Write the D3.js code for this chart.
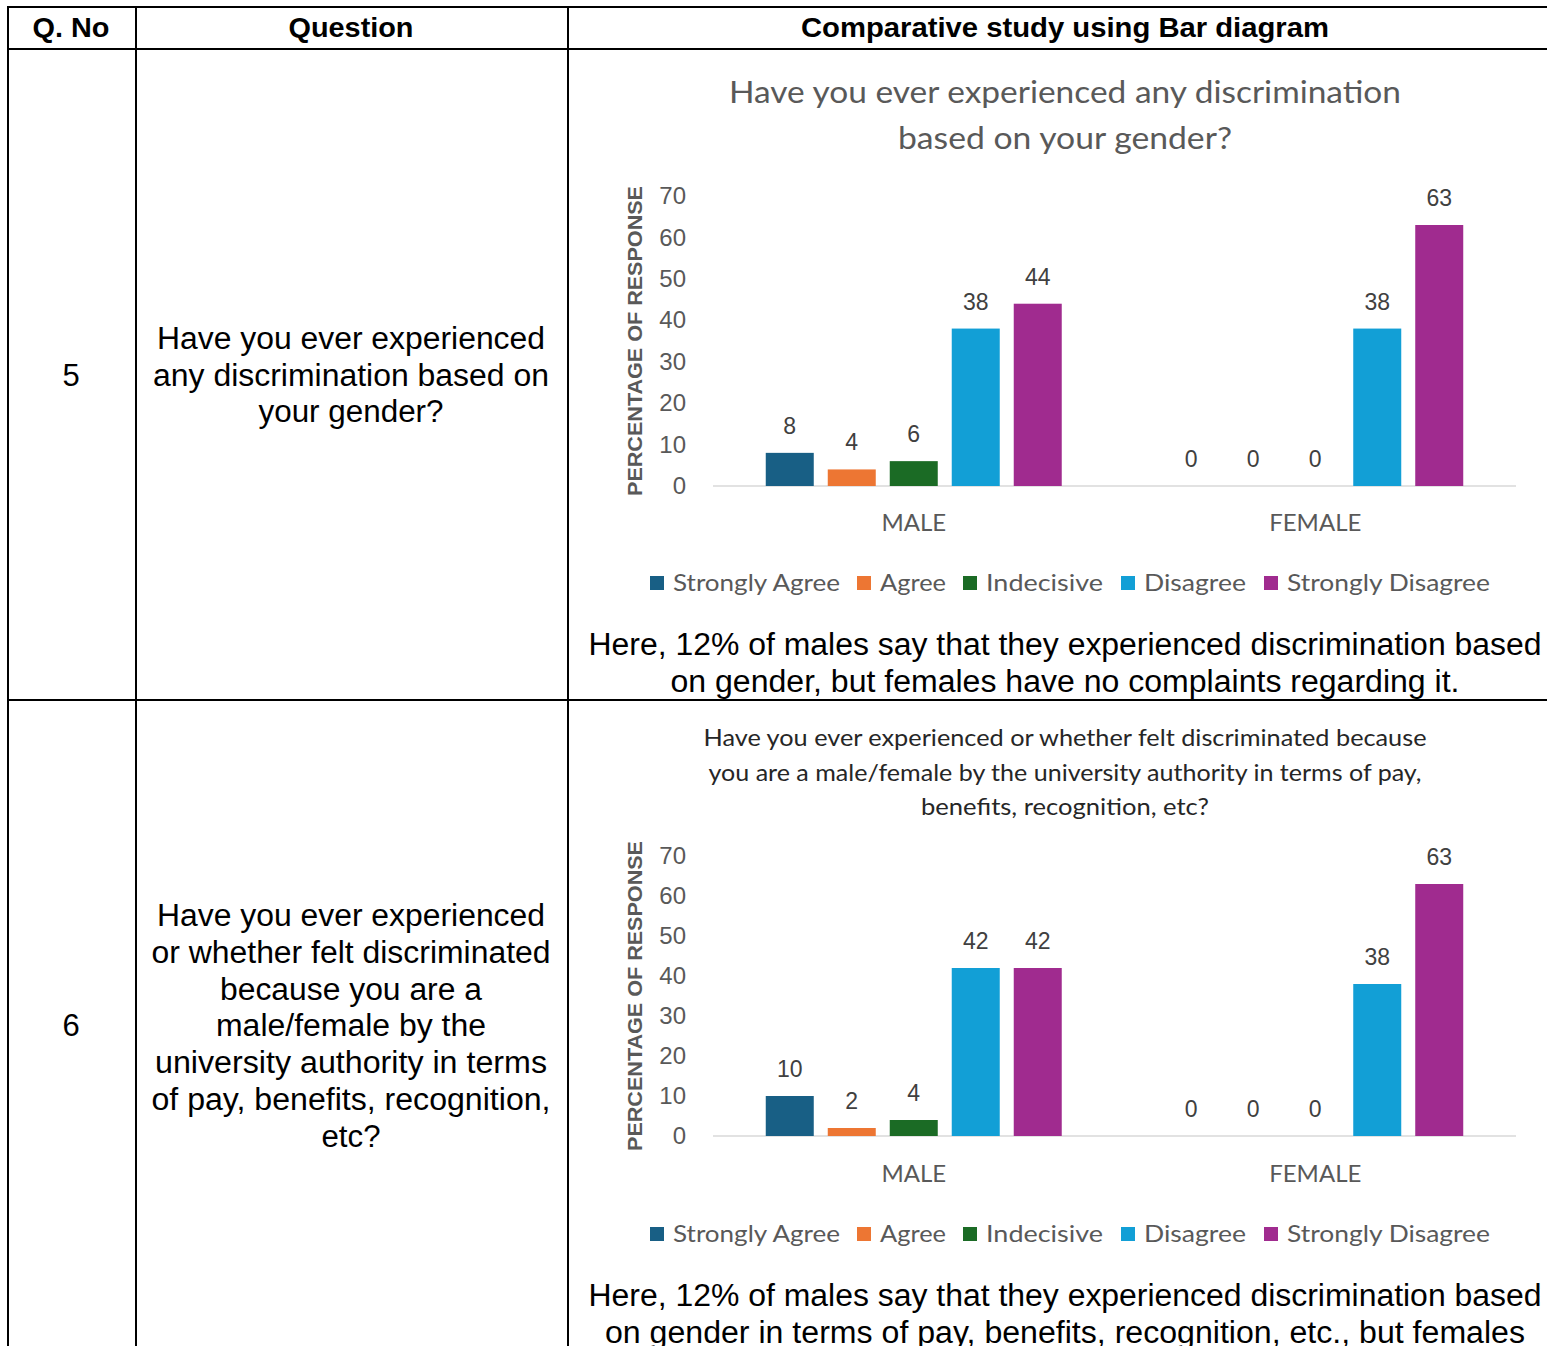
<!DOCTYPE html>
<html><head><meta charset="utf-8">
<script src="https://cdn.jsdelivr.net/npm/d3@7"></script>
<style>
html,body{margin:0;padding:0;background:#fff;overflow:hidden}
svg{display:block}
</style></head>
<body>
<svg id="c" width="1547" height="1346"></svg>
<script>
// ---------- data ----------
const groups = ["MALE", "FEMALE"];
const series = ["Strongly Agree", "Agree", "Indecisive", "Disagree", "Strongly Disagree"];
const q5Male = [8, 4, 6, 38, 44];
const q5Female = [0, 0, 0, 38, 63];
const q6Male = [10, 2, 4, 42, 42];
const q6Female = [0, 0, 0, 38, 63];
const yTicks = [0, 10, 20, 30, 40, 50, 60, 70];
const headers = ["Q. No", "Question", "Comparative study using Bar diagram"];
const q5Title = ["Have you ever experienced any discrimination", "based on your gender?"];
const q6Title = ["Have you ever experienced or whether felt discriminated because",
  "you are a male/female by the university authority in terms of pay,",
  "benefits, recognition, etc?"];
const q5Question = ["Have you ever experienced", "any discrimination based on", "your gender?"];
const q6Question = ["Have you ever experienced", "or whether felt discriminated", "because you are a",
  "male/female by the", "university authority in terms", "of pay, benefits, recognition,", "etc?"];
const q5Note = ["Here, 12% of males say that they experienced discrimination based",
  "on gender, but females have no complaints regarding it."];
const q6Note = ["Here, 12% of males say that they experienced discrimination based",
  "on gender in terms of pay, benefits, recognition, etc., but females",
  "have no complaints regarding it."];
const colors = ["#185f85", "#ed7633", "#1b6b25", "#129fd6", "#a02b8f"];

// ---------- drawing ----------
const svg = d3.select("#c");
const ARIAL = "Arial, 'Liberation Sans', sans-serif";
const APTOS = "Lato, 'Open Sans', sans-serif";

function txt(g, x, y, s, size, opts = {}) {
  const t = g.append("text").attr("x", x).attr("y", y).text(s)
    .attr("font-family", opts.family || ARIAL).attr("font-size", size)
    .attr("fill", opts.fill || "#000").attr("text-anchor", opts.anchor || "middle");
  if (opts.weight) t.attr("font-weight", opts.weight);
  if (opts.len) t.attr("textLength", opts.len).attr("lengthAdjust", "spacingAndGlyphs");
  return t;
}

// table grid
const grid = svg.append("g").attr("stroke", "#000").attr("stroke-width", 2);
grid.append("line").attr("x1", 7).attr("x2", 1547).attr("y1", 7).attr("y2", 7);
grid.append("line").attr("x1", 7).attr("x2", 1547).attr("y1", 49).attr("y2", 49);
grid.append("line").attr("x1", 7).attr("x2", 1547).attr("y1", 700).attr("y2", 700);
grid.append("line").attr("x1", 8).attr("x2", 8).attr("y1", 6).attr("y2", 1346);
grid.append("line").attr("x1", 136).attr("x2", 136).attr("y1", 6).attr("y2", 1346);
grid.append("line").attr("x1", 568).attr("x2", 568).attr("y1", 6).attr("y2", 1346);

// headers
const hx = [71, 351, 1065], hl = [77, 125, 528];
headers.forEach((h, i) => txt(svg, hx[i], 37, h, 27, { weight: "bold", len: hl[i] }));

// row 5 / 6 numbers and questions
txt(svg, 71, 386, "5", 31);
txt(svg, 71, 1036, "6", 31);
const qLen5 = [388, 396, 185];
q5Question.forEach((l, i) => txt(svg, 351, 349 + i * 36.6, l, 31, { len: qLen5[i] }));
const qLen6 = [388, 399, 262, 270, 392, 399, 59];
q6Question.forEach((l, i) => txt(svg, 351, 926 + i * 36.8, l, 31, { len: qLen6[i] }));

function chart(cfg) {
  const g = svg.append("g");
  const x0 = d3.scaleBand().domain(groups).range([713, 1516]).paddingInner(0).paddingOuter(0);
  const x1 = d3.scaleBand().domain(series).range([0, x0.bandwidth()])
    .paddingInner(14 / 62).paddingOuter(0.851);
  const y = d3.scaleLinear().domain([0, 70]).range([cfg.base, cfg.top]);

  // title
  cfg.title.forEach((l, i) => txt(g, 1065, cfg.titleY[i], l, cfg.titleSize,
    { family: APTOS, fill: cfg.titleFill, len: cfg.titleLen[i] }));

  // y axis
  const ax = g.append("g").attr("transform", `translate(690,0)`)
    .call(d3.axisLeft(y).tickValues(yTicks).tickSize(0).tickPadding(4));
  ax.select(".domain").remove();
  ax.selectAll("text").attr("font-family", ARIAL).attr("font-size", 24).attr("fill", "#595959");

  // axis title
  g.append("text").attr("transform", `translate(642,${(cfg.base + cfg.top) / 2}) rotate(-90)`)
    .attr("text-anchor", "middle").attr("font-family", ARIAL).attr("font-weight", "bold")
    .attr("font-size", 21).attr("fill", "#595959").attr("textLength", 310)
    .attr("lengthAdjust", "spacingAndGlyphs").text("PERCENTAGE OF RESPONSE");

  // baseline
  g.append("line").attr("x1", x0.range()[0]).attr("x2", x0.range()[1])
    .attr("y1", y(0)).attr("y2", y(0)).attr("stroke", "#d9d9d9").attr("stroke-width", 1.5);

  const data = groups.map((gr, gi) => ({ gr, vals: cfg.values[gi] }));
  const gg = g.selectAll(".grp").data(data).join("g")
    .attr("transform", d => `translate(${x0(d.gr)},0)`);
  gg.selectAll("rect").data(d => d.vals.map((v, i) => ({ v, i })).filter(e => e.v > 0)).join("rect")
    .attr("x", d => x1(series[d.i])).attr("width", x1.bandwidth())
    .attr("y", d => y(d.v)).attr("height", d => y(0) - y(d.v))
    .attr("fill", d => colors[d.i]);
  gg.selectAll(".lbl").data(d => d.vals.map((v, i) => ({ v, i }))).join("text")
    .attr("x", d => x1(series[d.i]) + x1.bandwidth() / 2)
    .attr("y", d => y(d.v) - 19)
    .attr("text-anchor", "middle").attr("font-family", ARIAL).attr("font-size", 23)
    .attr("fill", "#404040").text(d => d.v);

  // category labels
  groups.forEach(gr => txt(g, x0(gr) + x0.bandwidth() / 2, cfg.catY, gr, 24,
    { family: APTOS, fill: "#595959" }));

  // legend
  const legX = [650, 857, 963, 1121, 1264];
  const legLen = [167, 66, 117, 102, 203];
  series.forEach((s, i) => {
    g.append("rect").attr("x", legX[i]).attr("y", cfg.legY - 7).attr("width", 14).attr("height", 14)
      .attr("fill", colors[i]);
    txt(g, legX[i] + 23, cfg.legY + 8, s, 24, { family: APTOS, fill: "#595959", anchor: "start", len: legLen[i] });
  });

  // note
  cfg.note.forEach((l, i) => txt(g, 1065, cfg.noteY + i * 37, l, 31, { len: cfg.noteLen[i] }));
}

chart({
  base: 486, top: 196, values: [q5Male, q5Female],
  title: q5Title, titleY: [103, 149], titleSize: 31, titleFill: "#595959", titleLen: [672, 334],
  catY: 531, legY: 583, note: q5Note, noteY: 655, noteLen: [953, 789]
});
chart({
  base: 1136, top: 856, values: [q6Male, q6Female],
  title: q6Title, titleY: [746, 781, 815], titleSize: 24, titleFill: "#262626", titleLen: [723, 713, 288],
  catY: 1182, legY: 1234, note: q6Note, noteY: 1306, noteLen: [953, 920, 460]
});
</script>
</body></html>
